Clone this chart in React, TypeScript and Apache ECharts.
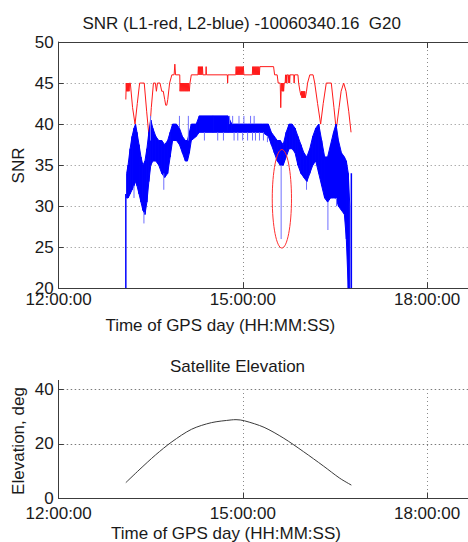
import React, { useEffect, useRef } from 'react';
import * as echarts from 'echarts';

// Time axis values are minutes after 12:00:00 of the GPS day.
const xTickLabels = ['12:00:00', '15:00:00', '18:00:00'];
const snrTicks = [20, 25, 30, 35, 40, 45, 50];
const elevTicks = [0, 20, 40];

// L1 (red) SNR, [minute, dB-Hz]
const l1Snr: [number, number][] = [
  [65.6, 43], [66.0, 45], [66.4, 44], [66.8, 45], [67.2, 44], [67.6, 45], [68.0, 44], [68.4, 45], [68.8, 44], [69.3, 45],
  [70.0, 45], [72.2, 42], [74.6, 40], [76.8, 42.5], [79.1, 45], [83.6, 45], [86.0, 41.5], [88.4, 38.3], [90.5, 42], [92.6, 45],
  [94.5, 45], [95.5, 44], [96.5, 45], [99.0, 45], [100.7, 44], [102.2, 44], [103.6, 43], [104.6, 42.3], [105.6, 42.3], [106.6, 43],
  [108.4, 45], [110.6, 46], [112.8, 46], [113.5, 47.3], [114.2, 46], [118.3, 46],
  [118.6, 44], [119.1, 45], [119.6, 44], [120.1, 45], [120.6, 44], [121.1, 45], [121.6, 44], [122.1, 45], [122.6, 44], [123.1, 45],
  [123.6, 44], [124.1, 45], [124.6, 44], [125.1, 45], [125.6, 44], [126.1, 45], [126.6, 44], [127.1, 45], [127.7, 44], [128.3, 45],
  [129.6, 46], [136.1, 46],
  [136.5, 47], [137.0, 46], [137.5, 47], [138.0, 46], [138.5, 47], [139.0, 46], [139.5, 47], [140.0, 46], [140.5, 47], [140.9, 46],
  [143.8, 46], [144.1, 47], [144.4, 46], [164.8, 46], [165.1, 45], [165.4, 46], [173.0, 46],
  [173.4, 47], [173.9, 46], [174.4, 47], [174.9, 46], [175.4, 47], [175.9, 46], [176.4, 47], [176.9, 46], [177.4, 47], [177.9, 46],
  [178.4, 47], [178.9, 46], [179.4, 47], [179.9, 46], [180.4, 47], [181.0, 46], [189.2, 46],
  [189.6, 47], [190.1, 46], [190.6, 47], [191.1, 46], [191.6, 47], [192.1, 46], [192.6, 47], [193.1, 46], [193.6, 47], [194.1, 46],
  [194.6, 47], [195.1, 46], [195.6, 47], [196.1, 46], [196.6, 47], [197.2, 47], [210.0, 47], [211.0, 46], [213.5, 46], [214.5, 45],
  [216.5, 45], [217.0, 42], [217.4, 44], [217.8, 45], [218.2, 44], [218.6, 45], [219.0, 44], [219.4, 45], [219.8, 44], [220.4, 45],
  [221.3, 45], [221.7, 46], [222.1, 45], [222.5, 46], [222.9, 45], [223.3, 46], [224.4, 46], [224.9, 45], [225.3, 46], [225.7, 45],
  [226.1, 46], [229.7, 46], [230.1, 45], [230.5, 46], [233.8, 46], [234.5, 45], [235.8, 44], [236.7, 43.5], [237.2, 44], [237.6, 43.2],
  [238.0, 44], [238.4, 43.2], [238.8, 44], [239.2, 43.2], [239.6, 44], [240.0, 43.2], [240.5, 44], [241.0, 43.2], [242.2, 44], [243.2, 45],
  [245.4, 46], [248.6, 46], [250.2, 45], [253.0, 42.5], [256.0, 40], [258.5, 42.5], [261.5, 45], [266.4, 45], [269.0, 42], [271.2, 39.3],
  [274.0, 42], [276.0, 44], [278.5, 45], [280.8, 44], [283.5, 41.5], [285.7, 39],
];

// L2 (blue) SNR band: sample minute, lower and upper edge of the dense trace
const l2Time = [
  66.4, 67.8, 69.8, 71.7, 73.6, 75.1, 76.5, 78.5, 80.4, 82.3, 84.3, 86.2, 88.1, 90.0, 92.0, 94.9, 97.8, 100.7, 103.6, 106.5,
  108.9, 111.3, 115.1, 118.0, 120.9, 123.8, 125.8, 127.7, 129.6, 134.4, 137.4, 150.9, 165.3, 169.2, 184.6, 199.1, 204.9, 207.8, 210.7, 213.6,
  216.5, 219.4, 222.3, 225.2, 228.1, 231.0, 233.8, 236.7, 239.6, 242.5, 245.4, 248.3, 251.2, 254.1, 257.0, 259.9, 262.8, 265.7, 268.6, 271.0,
  273.4, 276.3, 279.2, 281.1, 283.0, 284.5,
];
const l2Low = [
  31, 31, 31.5, 32, 32.5, 33, 32.5, 31.5, 30.5, 29.5, 29, 30.5, 33, 35, 35.5, 35.5, 35, 34, 33.5, 34,
  36, 38, 38, 37.5, 36.5, 35.5, 35.5, 36.5, 38, 38.5, 39, 39, 39, 39, 39, 39, 38.5, 37.5, 36.5, 35.5,
  35, 35, 36, 37, 37, 36.5, 35, 34, 33.5, 33, 34, 35, 35.5, 34, 32.5, 31, 30.5, 31, 31, 31,
  30, 29.5, 29, 26, 20, 20,
];
const l2High = [
  34, 35, 37, 38.5, 39.5, 40, 39, 37.5, 36, 35, 35.5, 37, 39, 40.5, 39.5, 38.5, 38, 38, 37.5, 38,
  39, 40, 40, 39.5, 38.5, 38, 38, 39, 40, 40, 41, 41, 41, 40, 40, 40, 40, 39, 38.5, 38,
  38, 37.5, 39, 40, 40, 39.5, 38.5, 37.5, 36.5, 36, 37, 38.5, 39.5, 40, 38, 36, 36, 37.5, 39, 40,
  38, 36.5, 36, 35.5, 34, 30,
];
// isolated L2 excursions: [minute, from, to]
const l2Spikes: [number, number, number][] = [
  [65.6, 20, 31.5], [73.6, 32.5, 31], [83.3, 29.3, 27.9], [89.7, 38, 41], [102.7, 34, 32], [118.0, 39.5, 41], [126.7, 38, 41],
  [142.4, 39, 38], [155.4, 39, 38], [161.0, 39, 38], [167.0, 40, 41], [170.0, 40, 41], [171.4, 39, 38], [175.0, 39, 38],
  [176.2, 40, 41], [179.8, 39, 38], [181.0, 40, 41], [184.6, 39, 38], [187.5, 40, 41], [189.4, 39, 38], [191.0, 40, 41],
  [192.3, 39, 38], [196.2, 39, 38], [200.1, 39, 38], [204.0, 38.5, 37.8], [217.4, 35, 26], [242.2, 33, 32],
  [263.1, 30.5, 27.1], [271.5, 31, 30], [286.0, 20, 34],
];
// highlighted outlier: [minute, snr, half-width (min), half-height (dB)]
const highlight: [number, number, number, number][] = [[218.1, 30.9, 9.4, 6.0]];

// satellite elevation
const elevTime = [65.6, 78.5, 94.6, 110.6, 129.9, 149.2, 168.5, 173.3, 181.4, 200.7, 220.0, 239.3, 258.6, 274.7, 286.0];
const elevDeg = [5.8, 10.4, 15.9, 20.7, 25.3, 27.7, 28.7, 28.8, 28.4, 26.0, 22.0, 17.1, 11.9, 7.4, 4.9];

const FONT = 'Liberation Sans, Arial, Helvetica, sans-serif';
const TXT = '#1a1a1a';
const AX = '#3c3c3c';
const GRIDC = '#8a8a8a';
const X_MAX = 400;

export default function App() {
  const ref = useRef<HTMLDivElement>(null);
  useEffect(() => {
    if (!ref.current) return;
    const chart = echarts.init(ref.current, null, { renderer: 'svg' });
    const xFmt = (v: number) => xTickLabels[Math.round(v / 180)] ?? '';
    const baseX = (gridIndex: number, margin: number) => ({
      type: 'value', gridIndex, min: 0, max: X_MAX, interval: 180,
      axisLine: { show: true, onZero: false, lineStyle: { color: AX, width: 1 } },
      axisTick: { show: true, inside: true, length: 6, lineStyle: { color: AX } },
      axisLabel: { show: true, formatter: xFmt, fontSize: 17, color: TXT, fontFamily: FONT, margin, showMaxLabel: false },
      splitLine: { show: true, lineStyle: { color: GRIDC, type: [1, 3], width: 1 } },
    });
    const txt = (text: string, x: number, y: number, rotation = 0, size = 17) => ({
      type: 'text', x, y, rotation,
      style: { text, fontSize: size, fontFamily: FONT, fill: TXT, textAlign: 'center', textVerticalAlign: 'middle' },
    });
    chart.setOption({
      animation: false,
      backgroundColor: '#ffffff',
      grid: [
        { left: 58.7, top: 42, width: 414.4, height: 246.3 },
        { left: 58.7, top: 389, width: 414.4, height: 109.5 },
      ],
      xAxis: [
        baseX(0, 3),
        {
          type: 'value', gridIndex: 0, position: 'top', min: 0, max: X_MAX, interval: 180,
          axisLine: { show: true, onZero: false, lineStyle: { color: AX, width: 1 } },
          axisTick: { show: true, inside: true, length: 6, lineStyle: { color: AX } },
          axisLabel: { show: false }, splitLine: { show: false },
        },
        baseX(1, 6),
      ],
      yAxis: [
        {
          type: 'value', gridIndex: 0, min: snrTicks[0], max: snrTicks[snrTicks.length - 1], interval: 5,
          axisLine: { show: true, onZero: false, lineStyle: { color: AX, width: 1 } },
          axisTick: { show: true, inside: true, length: 5, lineStyle: { color: AX } },
          axisLabel: { fontSize: 17, color: TXT, fontFamily: FONT, margin: 5 },
          splitLine: { show: true, lineStyle: { color: GRIDC, type: [1, 3], width: 1 } },
        },
        {
          type: 'value', gridIndex: 1, min: elevTicks[0], max: elevTicks[elevTicks.length - 1], interval: 20,
          axisLine: { show: true, onZero: false, lineStyle: { color: AX, width: 1 } },
          axisTick: { show: true, inside: true, length: 5, lineStyle: { color: AX } },
          axisLabel: { fontSize: 17, color: TXT, fontFamily: FONT, margin: 5 },
          splitLine: { show: true, showMaxLine: true, lineStyle: { color: '#7a7a7a', type: [1.5, 2.5], width: 1 } },
        },
      ],
      graphic: [
        txt('SNR (L1-red, L2-blue) -10060340.16  G20', 241.7, 23),
        txt('Time of GPS day (HH:MM:SS)', 220.3, 325),
        txt('SNR', 18.5, 165.5, Math.PI / 2),
        txt('Satellite Elevation', 237.5, 366),
        txt('Elevation, deg', 18.5, 441, Math.PI / 2),
        txt('Time of GPS day (HH:MM:SS)', 226, 533),
        // left axis of the elevation panel continues a little above the 40 deg line
        { type: 'line', shape: { x1: 58.5, y1: 380, x2: 58.5, y2: 389 }, style: { stroke: AX, lineWidth: 1 } },
      ],
      series: [
        {
          name: 'L1', type: 'line', xAxisIndex: 0, yAxisIndex: 0, data: l1Snr,
          showSymbol: false, symbol: 'none', lineStyle: { color: '#ff1a1a', width: 1 }, z: 2,
        },
        {
          name: 'L2', type: 'custom', xAxisIndex: 0, yAxisIndex: 0, z: 3, clip: true,
          data: l2Time.map((t, i) => [t, l2Low[i], l2High[i]]),
          encode: { x: 0, y: [1, 2] },
          renderItem: (params: any, api: any) => {
            const i = params.dataIndexInside;
            if (i >= params.dataInsideLength - 1) return null;
            const t0 = api.value(0, i), t1 = api.value(0, i + 1);
            const pts = [
              api.coord([t0, api.value(1, i)]),
              api.coord([t0, api.value(2, i)]),
              api.coord([t1, api.value(2, i + 1)]),
              api.coord([t1, api.value(1, i + 1)]),
            ];
            return {
              type: 'polygon', shape: { points: pts },
              style: { fill: '#0000ff', stroke: '#0000ff', lineWidth: 1 },
            };
          },
        },
        {
          name: 'L2 spikes', type: 'custom', xAxisIndex: 0, yAxisIndex: 0, z: 3, clip: true,
          data: l2Spikes, encode: { x: 0, y: [1, 2] },
          renderItem: (params: any, api: any) => {
            const a = api.coord([api.value(0), api.value(1)]);
            const b = api.coord([api.value(0), api.value(2)]);
            const solid = params.dataIndexInside === 0 || params.dataIndexInside === params.dataInsideLength - 1;
            return {
              type: 'line', shape: { x1: a[0], y1: a[1], x2: b[0], y2: b[1] },
              style: { stroke: solid ? '#0000ff' : '#6f6fff', lineWidth: solid ? 1.5 : 1 },
            };
          },
        },
        {
          name: 'highlight', type: 'custom', xAxisIndex: 0, yAxisIndex: 0, z: 4,
          data: highlight, encode: { x: 0, y: 1 },
          renderItem: (params: any, api: any) => {
            const c = api.coord([api.value(0), api.value(1)]);
            const s = api.size([api.value(2), api.value(3)]);
            return {
              type: 'ellipse', shape: { cx: c[0], cy: c[1], rx: s[0], ry: s[1] },
              style: { fill: 'none', stroke: '#ff3030', lineWidth: 1 },
            };
          },
        },
        {
          name: 'Elevation', type: 'line', xAxisIndex: 2, yAxisIndex: 1,
          data: elevTime.map((t, i) => [t, elevDeg[i]]),
          smooth: 0.3, showSymbol: false, symbol: 'none',
          lineStyle: { color: '#3a3a3a', width: 1 },
        },
      ],
    });
    return () => chart.dispose();
  }, []);
  return <div ref={ref} style={{ position: 'fixed', left: 0, top: 0, width: 468, height: 542 }} />;
}
